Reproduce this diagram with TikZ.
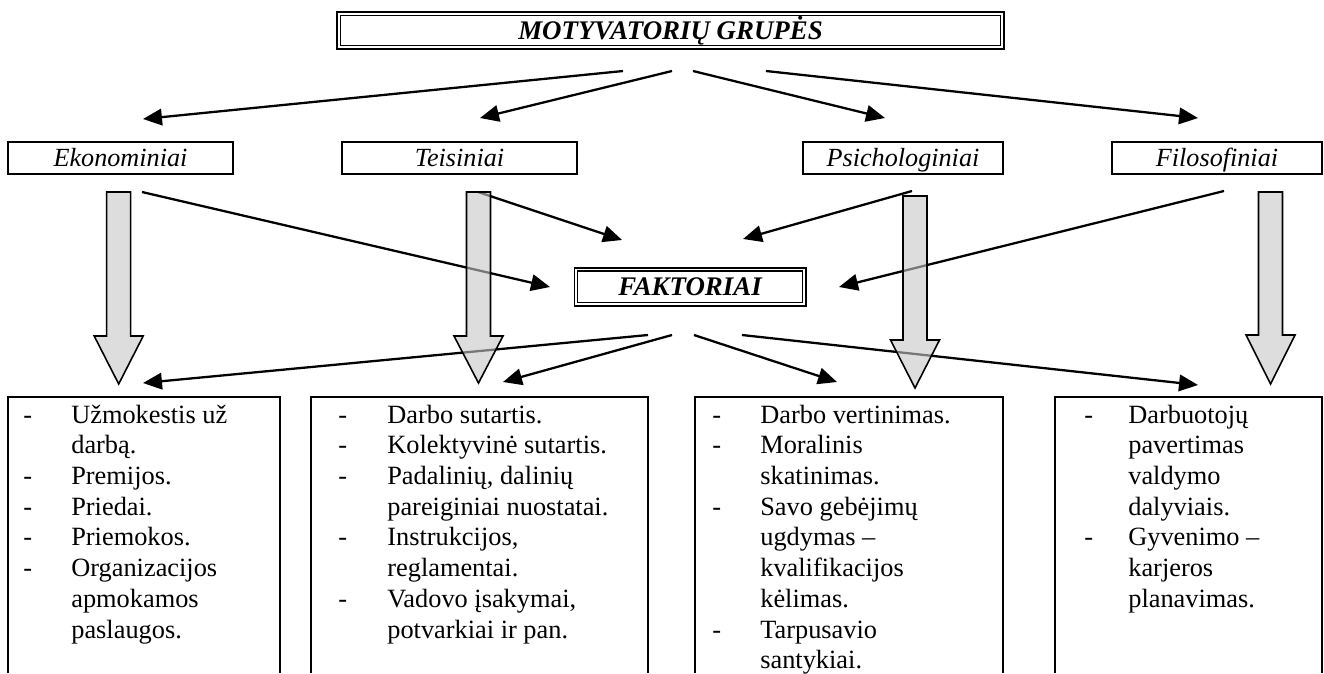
\documentclass[tikz,border=0pt]{standalone}
\usepackage{fontspec}
\setmainfont{Liberation Serif}
\usetikzlibrary{arrows.meta}

\tikzset{
  conn/.style={line width=1.3pt, -{Triangle[length=10.8pt,width=9.4pt]}},
  grupe/.style={draw, line width=1.1pt, inner sep=0pt, outer sep=0pt,
    minimum height=0.64cm, text height=9.8pt, text depth=0pt,
    font=\fontsize{14.9pt}{17.5pt}\selectfont\itshape},
  antraste/.style={draw, inner sep=0pt, outer sep=0pt,
    text height=10pt, text depth=0pt},
  sarasas/.style={anchor=base west, inner sep=0pt,
    font=\fontsize{15pt}{17.5pt}\selectfont},
  remas/.style={line width=1.1pt},
  plati/.style={draw=black, line width=0.9pt, fill=black!22, fill opacity=0.6}
}

\begin{document}
\begin{tikzpicture}[x=0.02cm, y=-0.02cm]
\useasboundingbox (0,0) rectangle (1324,673);

% Title
\node[antraste, line width=1.4pt, minimum width=13.34cm, minimum height=0.74cm,
      font=\fontsize{15.3pt}{18pt}\selectfont\bfseries\itshape]
      (grupes) at (670.5,30.5) {MOTYVATORIŲ GRUPĖS};
\draw[line width=0.6pt] ([shift={(3.5,3.5)}]grupes.north west)
      rectangle ([shift={(-3.5,-3.5)}]grupes.south east);

% Groups
\node[grupe, minimum width=4.5cm] (ekon) at (120.5,158) {Ekonominiai};
\node[grupe, minimum width=4.7cm] (teis) at (459.5,158) {Teisiniai};
\node[grupe, minimum width=4.0cm] (psich) at (903,158) {Psichologiniai};
\node[grupe, minimum width=4.2cm] (filos) at (1217,158) {Filosofiniai};

% Factors
\node[antraste, line width=0.6pt, minimum width=4.64cm, minimum height=0.76cm,
      font=\fontsize{15.3pt}{18pt}\selectfont\bfseries\itshape]
      (faktoriai) at (690,287) {FAKTORIAI};
\draw[line width=1.4pt] (faktoriai.north east) -- (faktoriai.south east)
      -- (faktoriai.south west);
\draw[line width=0.6pt] ([shift={(3,3)}]faktoriai.north west)
      rectangle ([shift={(-3.5,-3.5)}]faktoriai.south east);

% Lists
\draw[remas] (8,673) -- (8,397) -- (280,397) -- (280,673);
\draw[remas] (311,673) -- (311,397) -- (648,397) -- (648,673);
\draw[remas] (695,673) -- (695,397) -- (1003,397) -- (1003,673);
\draw[remas] (1055,673) -- (1055,397) -- (1322,397) -- (1322,673);

\node[sarasas] (sar1) at (23,423) {\begin{tabular}[t]{@{}p{0.96cm}@{}l@{}}
  -&Užmokestis už\\ &darbą.\\ -&Premijos.\\ -&Priedai.\\ -&Priemokos.\\
  -&Organizacijos\\ &apmokamos\\ &paslaugos.\end{tabular}};
\node[sarasas] (sar2) at (338,423) {\begin{tabular}[t]{@{}p{0.98cm}@{}l@{}}
  -&Darbo sutartis.\\ -&Kolektyvinė sutartis.\\ -&Padalinių, dalinių\\
  &pareiginiai nuostatai.\\ -&Instrukcijos,\\ &reglamentai.\\
  -&Vadovo įsakymai,\\ &potvarkiai ir pan.\end{tabular}};
\node[sarasas] (sar3) at (712,423) {\begin{tabular}[t]{@{}p{0.96cm}@{}l@{}}
  -&Darbo vertinimas.\\ -&Moralinis\\ &skatinimas.\\ -&Savo gebėjimų\\
  &ugdymas --\\ &kvalifikacijos\\ &kėlimas.\\ -&Tarpusavio\\
  &santykiai.\end{tabular}};
\node[sarasas] (sar4) at (1084,423) {\begin{tabular}[t]{@{}p{0.88cm}@{}l@{}}
  -&Darbuotojų\\ &pavertimas\\ &valdymo\\ &dalyviais.\\ -&Gyvenimo --\\
  &karjeros\\ &planavimas.\end{tabular}};

% Arrow ends
\coordinate (ga) at (623,71);  \coordinate (ta) at (143,119);
\coordinate (gb) at (672,71);  \coordinate (tb) at (480,118);
\coordinate (gc) at (693,71);  \coordinate (tc) at (885,118);
\coordinate (gd) at (766,71);  \coordinate (td) at (1198,118);
\coordinate (ea) at (142,192); \coordinate (fa) at (550,287);
\coordinate (eb) at (478,192); \coordinate (fb) at (622,240);
\coordinate (ec) at (912,191); \coordinate (fc) at (743,239);
\coordinate (ed) at (1224,191); \coordinate (fd) at (839,287);
\coordinate (ka) at (648,335); \coordinate (ba) at (143,383);
\coordinate (kb) at (672,335); \coordinate (bb) at (503,382);
\coordinate (kc) at (694,335); \coordinate (bc) at (837,382);
\coordinate (kd) at (742,335); \coordinate (bd) at (1198,385);

\foreach \a/\b in {ga/ta,gb/tb,gc/tc,gd/td,ea/fa,eb/fb,ec/fc,ed/fd,ka/ba,kb/bb,kc/bc,kd/bd}
  \draw[conn] (\a) -- (\b);

% Wide grey arrows
\foreach \cx/\ty/\hy/\py in {118.7/192/336/384, 478.5/192/336/383, 915/196/340/388, 1270.5/192/335/384}
  \draw[plati] ({\cx-12},\ty) -- ({\cx+12},\ty) -- ({\cx+12},\hy) -- ({\cx+24.5},\hy)
    -- (\cx,\py) -- ({\cx-24.5},\hy) -- ({\cx-12},\hy) -- cycle;
\end{tikzpicture}
\end{document}
